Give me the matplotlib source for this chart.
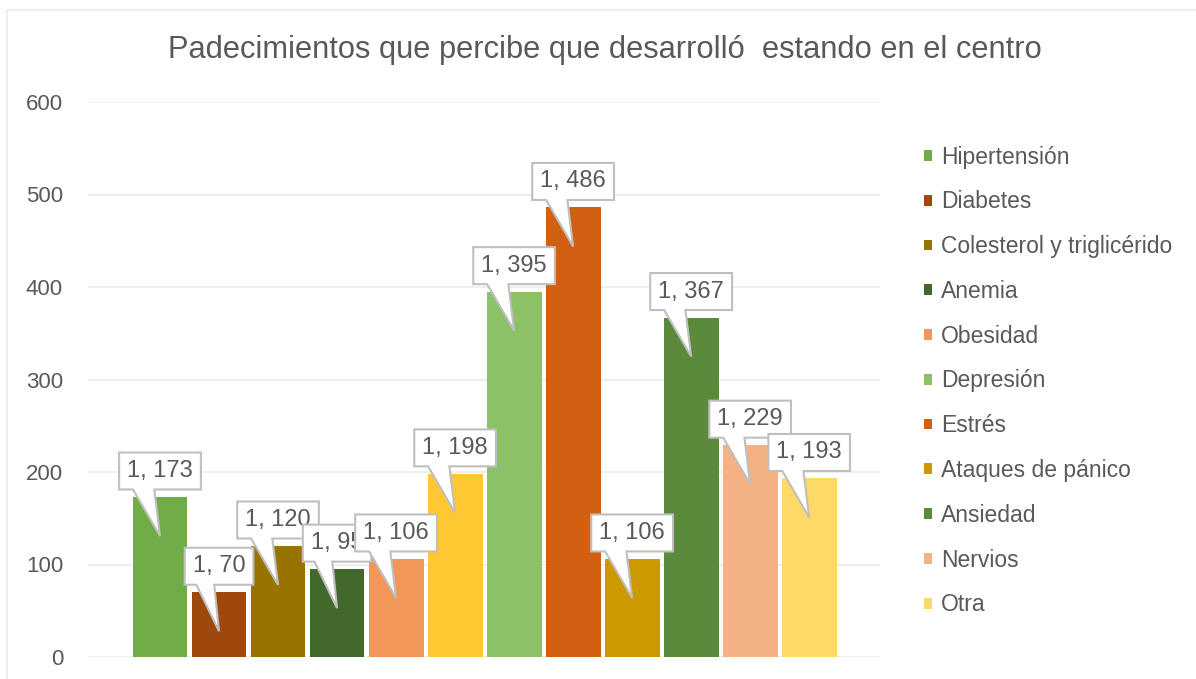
import matplotlib.pyplot as plt
from matplotlib.patches import Rectangle, Patch, Polygon
from matplotlib.transforms import IdentityTransform

# data
categories = [
    "Hipertensión",
    "Diabetes",
    "Colesterol y triglicérido",
    "Anemia",
    "Obesidad",
    "",  # sixth bar has no legend entry
    "Depresión",
    "Estrés",
    "Ataques de pánico",
    "Ansiedad",
    "Nervios",
    "Otra",
]
values = [173, 70, 120, 95, 106, 198, 395, 486, 106, 367, 229, 193]
labels = ["1, %d" % v for v in values]
colors = [
    "#70AD47", "#9E480E", "#997300", "#43682B", "#F1975A", "#FFC832",
    "#8CC168", "#D26012", "#CC9A00", "#5A8A3A", "#F4B183", "#FFD966",
]
title = "Padecimientos que percibe que desarrolló  estando en el centro"

plt.rcParams['font.family'] = ['Liberation Sans', 'DejaVu Sans']
text_color = "#595959"

fig = plt.figure(figsize=(11.96, 6.79), dpi=100)
ax = fig.add_axes([88 / 1196, 1 - 657 / 679, (880 - 88) / 1196, (657 - 102) / 679])

x = list(range(len(values)))
ax.bar(x, values, width=0.93, color=colors, zorder=2)

ax.set_ylim(0, 600)
ax.set_xlim(-1.22, 12.2)
ax.set_yticks(range(0, 601, 100))
ax.set_xticks([])
ax.yaxis.grid(True, color="#EDEDED", linewidth=1.3, zorder=0)
for s in ax.spines.values():
    s.set_visible(False)
ax.tick_params(axis='y', length=0, pad=18, labelsize=16, labelcolor=text_color)

# callout labels: text first, then a box+tail polygon sized to the text
texts = []
for i, (xi, v, lab) in enumerate(zip(x, values, labels)):
    t = ax.annotate(lab, xy=(xi, v), xytext=(0, 26), textcoords='offset pixels',
                    ha='center', va='center', fontsize=17, color=text_color, zorder=5 + 2 * i)
    texts.append(t)

fig.canvas.draw()
r = fig.canvas.get_renderer()
for i, (xi, v, t) in enumerate(zip(x, values, texts)):
    bx, by = ax.transData.transform((xi, v))
    ext = t.get_window_extent(r)
    w = ext.width + 16
    cx = bx
    cy = by + 26
    L, R = cx - w / 2, cx + w / 2
    B, T = cy - 18.5, cy + 18.5
    verts = [(L, T), (R, T), (R, B), (L + 0.43 * w, B), (bx, by - 39), (L + 0.17 * w, B), (L, B)]
    ax.add_patch(Polygon(verts, closed=True, transform=IdentityTransform(), fc='white',
                         ec='#BFBFBF', lw=1.5, zorder=4 + 2 * i, joinstyle='miter'))

# legend
handles = [Patch(facecolor=c, label=n) for c, n in zip(colors, categories) if n]
leg = fig.legend(handles=handles, loc='upper left', bbox_to_anchor=(903 / 1196, 1 - 125 / 679),
                 frameon=False, fontsize=16.5, handlelength=0.35, handleheight=0.35,
                 handletextpad=0.4, labelspacing=0.95, labelcolor=text_color)

fig.text(0.506, 1 - 50 / 679, title, ha='center', va='center', fontsize=22.2, color=text_color)

# chart border
fig.patches.append(Rectangle((7 / 1196, -0.1), 1.2, 1 - 10 / 679 + 0.1, transform=fig.transFigure,
                             fill=False, ec="#EFEFEF", lw=1.5, zorder=0))

fig.savefig("out.png", dpi=100, facecolor='white')
